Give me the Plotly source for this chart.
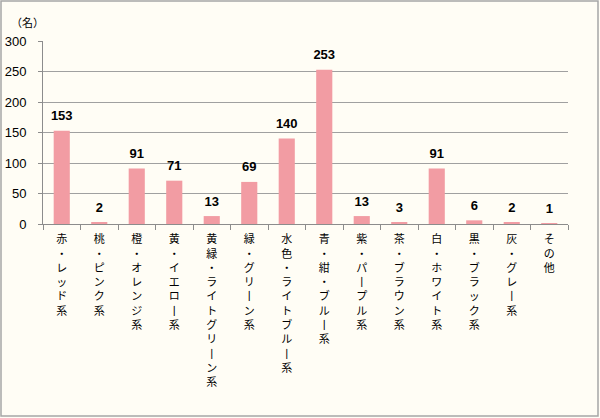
import plotly.graph_objects as go

categories = ['赤・レッド系', '桃・ピンク系', '橙・オレンジ系', '黄・イエロー系',
              '黄緑・ライトグリーン系', '緑・グリーン系', '水色・ライトブルー系',
              '青・紺・ブルー系', '紫・パープル系', '茶・ブラウン系', '白・ホワイト系',
              '黒・ブラック系', '灰・グレー系', 'その他']
counts = [153, 2, 91, 71, 13, 69, 140, 253, 13, 3, 91, 6, 2, 1]
y_ticks = [0, 50, 100, 150, 200, 250, 300]
unit_label = '（名）'


def vertical(text: str) -> str:
    """stack characters one per line, with the long vowel mark turned upright"""
    return '<br>'.join(ch if ch != 'ー' else '丨' for ch in text)


# plot area in pixels, used to place the frame and the unit label
W, H = 600, 418
L, R, T, B = 43, 32, 41, 194
pw, ph = W - L - R, H - T - B

fig = go.Figure()
fig.add_trace(go.Bar(
    x=categories, y=counts,
    marker=dict(color='#F29CA3', line=dict(width=0)),
    hoverinfo='x+y',
))
# value labels: an invisible marker sits on each bar top so the text clears it a bit
fig.add_trace(go.Scatter(
    x=categories, y=counts, mode='markers+text',
    marker=dict(size=10, opacity=0), text=counts, textposition='top center',
    textfont=dict(family='Liberation Sans', size=13, color='black', weight='bold'),
    cliponaxis=False, hoverinfo='skip',
))

fig.update_layout(
    width=W, height=H,
    margin=dict(l=L, r=R, t=T, b=B, autoexpand=False),
    paper_bgcolor='#FFFDF5', plot_bgcolor='#FFFDF5',
    bargap=0.57, showlegend=False,
    font=dict(family='Noto Sans CJK JP', color='black'),
    xaxis=dict(
        tickmode='array', tickvals=categories,
        ticktext=[vertical(c) for c in categories],
        range=[-0.5, len(categories) - 0.5],
        tickfont=dict(family='Liberation Sans, Noto Sans CJK JP', size=11),
        tickson='boundaries', ticks='outside', ticklen=5, tickcolor='#8C8C8C',
        ticklabelstandoff=5,
        showline=True, linecolor='#8C8C8C', linewidth=1, tickangle=0,
        showgrid=False, fixedrange=True,
    ),
    yaxis=dict(
        range=[0, 300], tickvals=y_ticks,
        tickfont=dict(family='Liberation Sans', size=13),
        ticks='outside', ticklen=4, tickcolor='#8C8C8C', ticklabelstandoff=9,
        showline=True, linecolor='#8C8C8C', linewidth=1,
        showgrid=True, gridcolor='#A0A0A0', gridwidth=1, zeroline=False,
    ),
    annotations=[dict(
        text=unit_label, xref='paper', yref='paper',
        x=(27 - L) / pw, y=(H - B - 22) / ph, xanchor='center', yanchor='middle',
        showarrow=False, font=dict(family='Noto Sans CJK JP', size=11),
    )],
    shapes=[dict(
        type='rect', xref='paper', yref='paper',
        x0=(1 - L) / pw, x1=(598 - L) / pw,
        y0=(H - B - 416) / ph, y1=(H - B - 1) / ph,
        line=dict(color='#A6A6A6', width=1.5),
    )],
)

# the page would otherwise put the default 8px body margin around the chart
fig.write_html('out.html', config={'displayModeBar': False},
               post_script="document.body.style.margin = '0';")
